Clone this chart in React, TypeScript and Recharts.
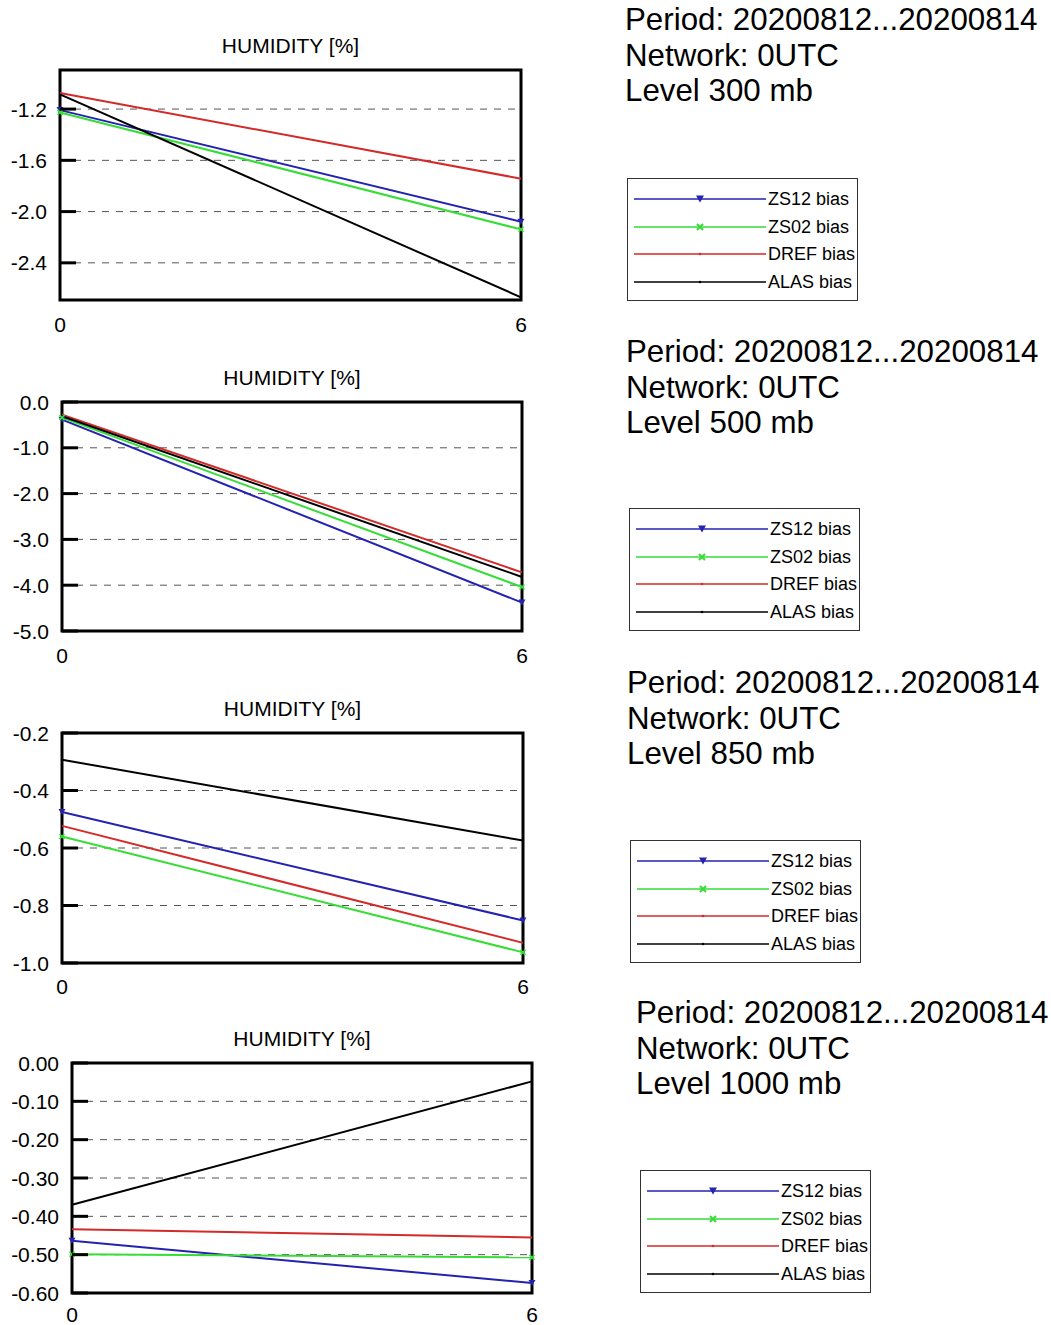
import React from "react";
import {
  LineChart,
  Line,
  XAxis,
  YAxis,
  CartesianGrid,
  ReferenceArea,
  Legend,
} from "recharts";

// ---------- data ----------
const hours = [0, 6];
const seriesNames = ["ZS12 bias", "ZS02 bias", "DREF bias", "ALAS bias"];
const seriesKeys = ["zs12", "zs02", "dref", "alas"];
const seriesColors = ["#2323b0", "#36dd36", "#d42a2a", "#000000"];

const levels = ["300", "500", "850", "1000"];
const periodText = "Period: 20200812...20200814";
const networkText = "Network: 0UTC";
const titleText = "HUMIDITY [%]";

// level 300 mb
const zs12_300 = [-1.208, -2.079];
const zs02_300 = [-1.226, -2.139];
const dref_300 = [-1.075, -1.743];
const alas_300 = [-1.085, -2.669];
const ticks_300 = [-2.4, -2.0, -1.6, -1.2];
const domain_300 = [-2.69, -0.895];

// level 500 mb
const zs12_500 = [-0.385, -4.38];
const zs02_500 = [-0.34, -4.04];
const dref_500 = [-0.276, -3.72];
const alas_500 = [-0.31, -3.82];
const ticks_500 = [-5.0, -4.0, -3.0, -2.0, -1.0, 0.0];
const domain_500 = [-5.0, 0.0];

// level 850 mb
const zs12_850 = [-0.475, -0.852];
const zs02_850 = [-0.56, -0.963];
const dref_850 = [-0.523, -0.93];
const alas_850 = [-0.293, -0.574];
const ticks_850 = [-1.0, -0.8, -0.6, -0.4, -0.2];
const domain_850 = [-1.0, -0.2];

// level 1000 mb
const zs12_1000 = [-0.464, -0.574];
const zs02_1000 = [-0.499, -0.507];
const dref_1000 = [-0.434, -0.455];
const alas_1000 = [-0.37, -0.048];
const ticks_1000 = [-0.6, -0.5, -0.4, -0.3, -0.2, -0.1, 0.0];
const domain_1000 = [-0.6, 0.0];

const tickDecimals = [1, 1, 1, 2];

// ---------- layout ----------
const W = 1051;
const H = 1325;
const FONT = '"Liberation Sans", Arial, Helvetica, sans-serif';

type Geo = {
  left: number;
  right: number;
  top: number;
  bottom: number;
  xLab: number;
  textX: number;
  textY: number;
  legX: number;
  legY: number;
};

const geos: Geo[] = [
  { left: 60, right: 521, top: 70, bottom: 300, xLab: 17, textX: 625, textY: 20, legX: 627, legY: 178 },
  { left: 62, right: 522, top: 402, bottom: 631, xLab: 17, textX: 626, textY: 352, legX: 629, legY: 508 },
  { left: 62, right: 523, top: 733, bottom: 963, xLab: 16, textX: 627, textY: 683, legX: 630, legY: 840 },
  { left: 72, right: 532, top: 1063, bottom: 1293, xLab: 14, textX: 636, textY: 1013, legX: 640, legY: 1170 },
];

const makeRows = (a: number[], b: number[], c: number[], d: number[]) =>
  hours.map((h, i) => ({ hour: h, zs12: a[i], zs02: b[i], dref: c[i], alas: d[i] }));

const panels = [
  { data: makeRows(zs12_300, zs02_300, dref_300, alas_300), ticks: ticks_300, domain: domain_300 },
  { data: makeRows(zs12_500, zs02_500, dref_500, alas_500), ticks: ticks_500, domain: domain_500 },
  { data: makeRows(zs12_850, zs02_850, dref_850, alas_850), ticks: ticks_850, domain: domain_850 },
  { data: makeRows(zs12_1000, zs02_1000, dref_1000, alas_1000), ticks: ticks_1000, domain: domain_1000 },
];

const TriDot = (props: any) => {
  const { cx, cy, key } = props;
  if (cx == null || cy == null) return <g key={key} />;
  return (
    <path
      key={key}
      d={`M${cx - 3.5},${cy - 3} L${cx + 3.5},${cy - 3} L${cx},${cy + 3} Z`}
      fill="#2323b0"
    />
  );
};

const XDot = (props: any) => {
  const { cx, cy, key } = props;
  if (cx == null || cy == null) return <g key={key} />;
  return (
    <path
      key={key}
      d={`M${cx - 2.5},${cy - 2.5} L${cx + 2.5},${cy + 2.5} M${cx - 2.5},${cy + 2.5} L${cx + 2.5},${cy - 2.5}`}
      stroke="#36dd36"
      strokeWidth={1.6}
    />
  );
};

const YTick = (props: any) => {
  const { x, y, payload, dec } = props;
  const v = Number(payload && payload.value);
  return (
    <g>
      <line x1={x + 13} y1={y} x2={x + 29} y2={y} stroke="#000" strokeWidth={3} />
      <text x={x} y={y} dy="0.36em" textAnchor="end" fontSize={21} fill="#000">
        {v.toFixed(dec)}
      </text>
    </g>
  );
};

const legendMarker = (key: string, color: string) => {
  const cx = 66;
  const cy = 6;
  if (key === "zs12")
    return <path d={`M${cx - 4},${cy - 3.5} L${cx + 4},${cy - 3.5} L${cx},${cy + 3.5} Z`} fill={color} />;
  if (key === "zs02")
    return (
      <path
        d={`M${cx - 3},${cy - 3} L${cx + 3},${cy + 3} M${cx - 3},${cy + 3} L${cx + 3},${cy - 3}`}
        stroke={color}
        strokeWidth={2}
      />
    );
  return <circle cx={cx} cy={cy} r={1.3} fill={color} />;
};

const LegendBox = (props: any) => {
  const payload = [...(props.payload || [])].sort(
    (a: any, b: any) => seriesKeys.indexOf(String(a.dataKey)) - seriesKeys.indexOf(String(b.dataKey))
  );
  return (
    <div
      style={{
        boxSizing: "border-box",
        width: 231,
        height: 123,
        border: "1.5px solid #333",
        background: "#fff",
        position: "relative",
        fontFamily: FONT,
      }}
    >
      {payload.map((entry: any, i: number) => (
        <div
          key={i}
          style={{
            position: "absolute",
            left: 6,
            top: 20 + i * 27.7 - 8,
            height: 16,
            display: "flex",
            alignItems: "center",
          }}
        >
          <svg width={132} height={12} style={{ display: "block" }}>
            <line x1={0} y1={6} x2={132} y2={6} stroke={entry.color} strokeWidth={1.6} />
            {legendMarker(String(entry.dataKey), entry.color)}
          </svg>
          <span style={{ fontSize: 18, color: "#000", marginLeft: 2, lineHeight: "16px", whiteSpace: "nowrap" }}>
            {entry.value}
          </span>
        </div>
      ))}
    </div>
  );
};

const Panel = ({ idx }: { idx: number }) => {
  const g = geos[idx];
  const p = panels[idx];
  const plotH = g.bottom - g.top;
  const chartTop = g.top - 60;
  const chartH = plotH + 100;
  const yAxisW = 50;
  const xAxisH = 30;
  const dec = tickDecimals[idx];
  return (
    <>
      <div
        style={{
          position: "absolute",
          left: g.left,
          width: g.right - g.left,
          top: g.top - 24 - 12,
          height: 24,
          lineHeight: "24px",
          textAlign: "center",
          fontSize: 21,
          color: "#000",
        }}
      >
        {titleText}
      </div>
      <div
        style={{
          position: "absolute",
          left: g.textX,
          top: g.textY - 17.75,
          fontSize: 31.3,
          lineHeight: "35.5px",
          color: "#000",
          whiteSpace: "nowrap",
        }}
      >
        <div>{periodText}</div>
        <div>{networkText}</div>
        <div>{`Level ${levels[idx]} mb`}</div>
      </div>
      <div style={{ position: "absolute", left: 0, top: chartTop }}>
        <LineChart
          width={W}
          height={chartH}
          data={p.data}
          margin={{ top: 60, bottom: chartH - 60 - plotH - xAxisH, left: g.left - yAxisW, right: W - g.right }}
        >
          <CartesianGrid vertical={false} horizontal stroke="#555" strokeDasharray="7 7" strokeWidth={1} />
          <XAxis
            dataKey="hour"
            type="number"
            domain={[0, 6]}
            ticks={hours}
            height={xAxisH}
            tickLine={false}
            axisLine={false}
            tickSize={0}
            tickMargin={g.xLab}
            tick={{ fontSize: 21, fill: "#000" }}
            interval={0}
          />
          <YAxis
            type="number"
            domain={p.domain}
            ticks={p.ticks}
            allowDataOverflow
            width={yAxisW}
            axisLine={false}
            tickSize={0}
            tickMargin={13}
            tickLine={false}
            tick={(tp: any) => <YTick {...tp} dec={dec} />}
            interval={0}
          />
          {seriesKeys.map((k, i) => (
            <Line
              key={k}
              type="linear"
              dataKey={k}
              name={seriesNames[i]}
              stroke={seriesColors[i]}
              strokeWidth={2}
              dot={k === "zs12" ? TriDot : k === "zs02" ? XDot : false}
              activeDot={false}
              isAnimationActive={false}
            />
          ))}
          <ReferenceArea
            x1={0}
            x2={6}
            y1={p.domain[0]}
            y2={p.domain[1]}
            fill="none"
            stroke="#000"
            strokeWidth={3}
            ifOverflow="visible"
          />
          <Legend
            layout="vertical"
            align="center"
            verticalAlign="middle"
            content={LegendBox}
            wrapperStyle={{ left: g.legX, top: g.legY - chartTop, width: 231, height: 123 }}
          />
        </LineChart>
      </div>
    </>
  );
};

export default function App() {
  return (
    <div
      style={{
        position: "absolute",
        left: 0,
        top: 0,
        width: W,
        height: H,
        overflow: "hidden",
        background: "#fff",
        fontFamily: FONT,
      }}
    >
      {levels.map((_, i) => (
        <Panel key={i} idx={i} />
      ))}
    </div>
  );
}
